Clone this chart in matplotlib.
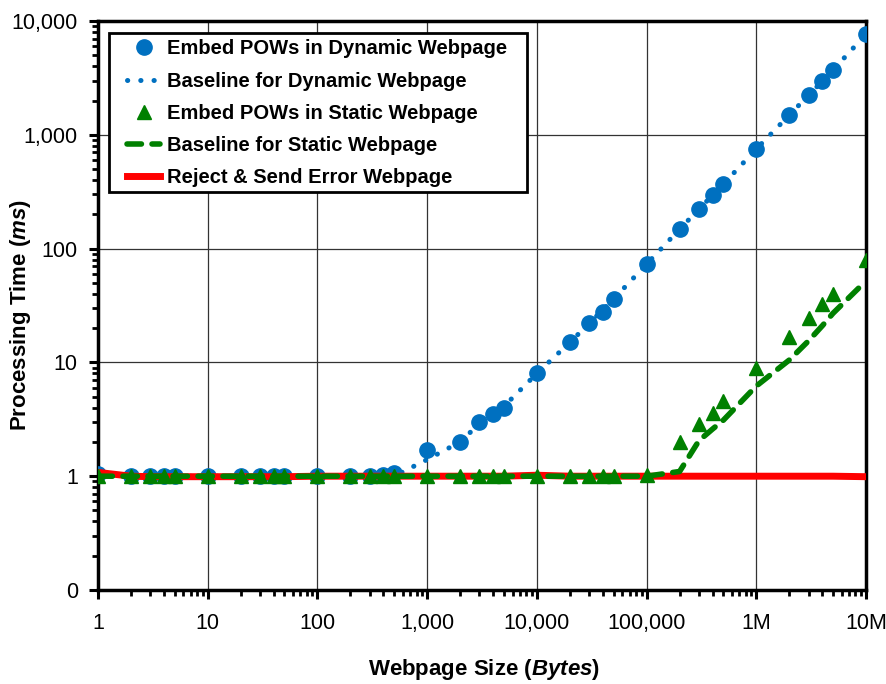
import matplotlib
matplotlib.use("Agg")
import matplotlib.pyplot as plt
from matplotlib.patches import Rectangle
from matplotlib.ticker import FixedLocator, FixedFormatter, LogLocator, NullFormatter

plt.rcParams['font.family'] = ['Liberation Sans', 'DejaVu Sans']
plt.rcParams['mathtext.fontset'] = 'custom'
plt.rcParams['mathtext.it'] = 'Liberation Sans:italic:bold'
plt.rcParams['mathtext.rm'] = 'Liberation Sans:bold'

# ---- data ----
sizes = [1, 2, 3, 4, 5, 10, 20, 30, 40, 50, 100, 200, 300, 400, 500,
         1000, 2000, 3000, 4000, 5000, 10000, 20000, 30000, 40000, 50000,
         100000, 200000, 300000, 400000, 500000,
         1000000, 2000000, 3000000, 4000000, 5000000, 10000000]

dyn_pow = [1.05, 1.0, 1.0, 1.0, 1.0, 1.0, 1.0, 1.0, 1.0, 1.0, 1.0, 1.0, 1.0, 1.03, 1.07,
           1.7, 2.0, 3.0, 3.5, 4.0, 8.0, 15, 22, 28, 36,
           73, 148, 222, 295, 368,
           750, 1490, 2230, 2960, 3700, 7660]

dyn_base = [1.0, 1.0, 1.0, 1.0, 1.0, 1.0, 1.0, 1.0, 1.0, 1.0, 1.0, 1.0, 1.0, 1.0, 1.0,
            1.4, 2.0, 2.9, 3.5, 4.1, 8.0, 15, 22, 29, 36,
            73, 148, 222, 295, 368,
            750, 1490, 2230, 2960, 3700, 7660]

sta_pow = [1.0, 1.0, 1.0, 1.0, 1.0, 1.0, 1.0, 1.0, 1.0, 1.0, 1.0, 1.0, 1.0, 1.0, 1.0,
           1.0, 1.0, 1.0, 1.0, 1.0, 1.0, 1.0, 1.0, 1.0, 1.0,
           1.02, 2.0, 2.86, 3.6, 4.55,
           9.0, 16.7, 24.6, 32.5, 40, 79]

sta_base = [1.0, 1.0, 1.0, 1.0, 1.0, 1.0, 1.0, 1.0, 1.0, 1.0, 1.0, 1.0, 1.0, 1.0, 1.0,
            1.0, 1.0, 1.0, 1.0, 1.0, 1.0, 1.0, 1.0, 1.0, 1.0,
            1.0, 1.1, 2.05, 2.6, 3.1,
            6.2, 10.5, 15.5, 21, 27, 52]

reject = [1.08, 1.0, 0.99, 0.99, 0.99, 0.99, 0.99, 0.99, 0.99, 0.99, 1.0, 1.0, 1.0, 1.0, 1.0,
          1.0, 1.0, 1.0, 1.0, 1.0, 1.02, 1.0, 1.0, 1.0, 1.0,
          1.0, 1.0, 1.0, 1.0, 1.0,
          1.0, 1.0, 1.0, 1.0, 1.0, 0.99]

x_ticks = [1, 10, 100, 1000, 10000, 100000, 1000000, 10000000]
x_labels = ["1", "10", "100", "1,000", "10,000", "100,000", "1M", "10M"]
y_ticks = [0.1, 1, 10, 100, 1000, 10000]
y_labels = ["0", "1", "10", "100", "1,000", "10,000"]

labels = ["Embed POWs in Dynamic Webpage", "Baseline for Dynamic Webpage",
          "Embed POWs in Static Webpage", "Baseline for Static Webpage",
          "Reject & Send Error Webpage"]

blue = "#0070C0"
green = "#008000"
red = "#FF0000"

W, H = 887, 684
fig = plt.figure(figsize=(W/100, H/100), dpi=100)
ax = fig.add_axes([98/W, 1-590/H, 768/W, 569/H])
ax.set_xscale('log')
ax.set_yscale('log')
ax.set_xlim(1, 1e7)
ax.set_ylim(0.1, 1e4)

h1, = ax.plot(sizes, dyn_pow, linestyle='none', marker='o', markersize=11,
              color=blue, zorder=3)
h2, = ax.plot(sizes, dyn_base, linestyle=(0, (0.05, 2.6)), linewidth=3.6,
              dash_capstyle='round', color=blue, zorder=3)
h5, = ax.plot(sizes, reject, linestyle='-', linewidth=5, color=red, zorder=4)
h3, = ax.plot(sizes, sta_pow, linestyle='none', marker='^', markersize=9.5,
              color=green, zorder=5)
h4, = ax.plot(sizes, sta_base, linestyle=(0, (2.6, 1.9)), linewidth=4,
              dash_capstyle='round', color=green, zorder=5)

ax.xaxis.set_major_locator(FixedLocator(x_ticks))
ax.xaxis.set_major_formatter(FixedFormatter(x_labels))
ax.xaxis.set_minor_locator(LogLocator(base=10, subs=range(2, 10), numticks=20))
ax.xaxis.set_minor_formatter(NullFormatter())
ax.yaxis.set_major_locator(FixedLocator(y_ticks))
ax.yaxis.set_major_formatter(FixedFormatter(y_labels))
ax.yaxis.set_minor_locator(LogLocator(base=10, subs=range(2, 10), numticks=20))
ax.yaxis.set_minor_formatter(NullFormatter())

ax.tick_params(which='major', direction='out', length=6.5, width=2.2,
               labelsize=15.5, pad=8, color='black')
ax.tick_params(which='minor', direction='out', length=4, width=2.0, color='black')
ax.tick_params(axis='x', which='major', pad=10)

ax.grid(True, which='major', color='#333333', linewidth=0.9)
ax.set_axisbelow(True)
for s in ax.spines.values():
    s.set_linewidth(2.5)
    s.set_color('black')

ax.set_ylabel(r"Processing Time ($ms$)", fontsize=16, fontweight='bold')
ax.yaxis.set_label_coords((33-98)/768, (590-315)/569)
ax.set_xlabel(r"Webpage Size ($Bytes$)", fontsize=16, fontweight='bold')
ax.xaxis.set_label_coords((484-98)/768, (590-657)/569)

# legend frame (drawn separately to match padding)
frame = Rectangle((109/W, 1-191.7/H), (526.7-109)/W, (191.7-32.7)/H,
                  transform=fig.transFigure, facecolor='white', edgecolor='black',
                  linewidth=2, zorder=9, clip_on=False)
ax.add_patch(frame)

leg = ax.legend([h1, h2, h3, h4, h5], labels, loc='upper left',
                bbox_to_anchor=(127/W, 1-39.5/H), bbox_transform=fig.transFigure,
                frameon=False, prop={'weight': 'bold', 'size': 14.5},
                handlelength=1.64, labelspacing=0.65, borderpad=0.0,
                handletextpad=0.35, borderaxespad=0)
leg.set_zorder(10)

fig.savefig("out.png", dpi=100)
